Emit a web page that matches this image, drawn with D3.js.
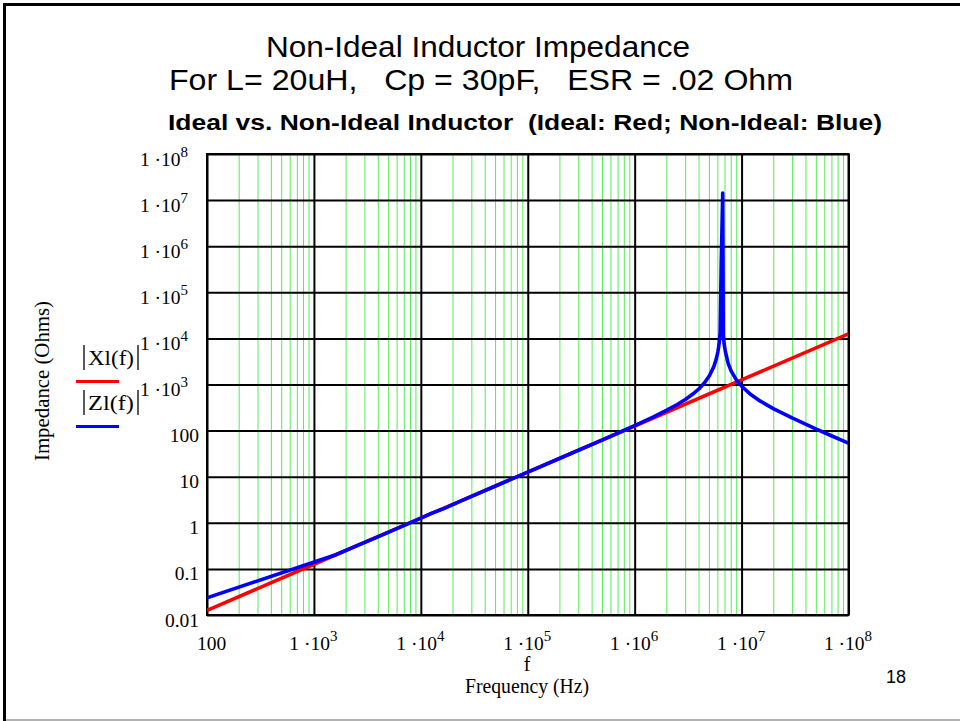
<!DOCTYPE html>
<html><head><meta charset="utf-8">
<script src="https://cdn.jsdelivr.net/npm/d3@7"></script>
<style>
body{margin:0;background:#fff;}
svg{display:block;}
text{white-space:pre;}
</style></head><body>
<svg id="chart" width="960" height="721"></svg>
<script>
// ---------- data ----------
const titleLines = ["Non-Ideal Inductor Impedance", "For L= 20uH,   Cp = 30pF,   ESR = .02 Ohm"];
const subTitle = "Ideal vs. Non-Ideal Inductor  (Ideal: Red; Non-Ideal: Blue)";
const xAxisSymbol = "f";
const xAxisTitle = "Frequency (Hz)";
const yAxisTitle = "Impedance (Ohms)";
const legendNames = ["Xl(f)", "Zl(f)"];
const pageNumber = "18";

const xTickValues = [1e2, 1e3, 1e4, 1e5, 1e6, 1e7, 1e8];
const xTickLabels = ["100", "1·10^3", "1·10^4", "1·10^5", "1·10^6", "1·10^7", "1·10^8"];
const yTickValues = [0.01, 0.1, 1, 10, 100, 1e3, 1e4, 1e5, 1e6, 1e7, 1e8];
const yTickLabels = ["0.01", "0.1", "1", "10", "100", "1·10^3", "1·10^4", "1·10^5", "1·10^6", "1·10^7", "1·10^8"];

// Ideal inductor |Xl(f)| (red)
const idealFreq = [1e2, 1e3, 1e4, 1e5, 1e6, 1e7, 1e8];
const idealXl   = [0.0126, 0.126, 1.26, 12.6, 126, 1257, 12570];

// Non-ideal inductor |Zl(f)| (blue)
const nonIdealFreq = [1e2, 1.58e3, 2.5e3, 4e3, 7e3, 1e4, 1.25e4, 1.6e4, 2.5e4, 5e4,
  1e5, 2e5, 5e5, 1e6, 1.5e6, 2e6, 2.5e6, 3e6, 3.5e6, 4e6, 4.5e6, 5e6, 5.5e6, 5.8e6, 6.0e6, 6.1e6,
  6.2e6, 6.3e6, 6.45e6, 6.66e6, 6.74e6, 6.85e6, 7.05e6, 7.5e6, 8e6, 9e6, 1e7, 1.2e7, 1.5e7, 2e7, 3e7,
  5e7, 7e7, 1e8];
const nonIdealZl = [0.0236, 0.2, 0.315, 0.503, 0.88, 1.257, 1.6, 1.99, 3.14, 6.28,
  12.57, 25.16, 63.2, 128.7, 199, 277.6, 368.8, 479, 620, 809, 1087, 1541, 2440, 3590, 5130, 6470,
  8730, 13260, 410000, 14300000, 12000, 8000, 5200, 2830, 1950, 1231, 918, 625, 435, 296.5, 185.5,
  107.9, 76.4, 53.3];

// ---------- layout ----------
const svg = d3.select("#chart");
const L = 207, R = 848.5, T = 154, B = 615;
const serif = "'Liberation Serif','Times New Roman',serif";
const sans = "'Liberation Sans',Arial,sans-serif";

const x = d3.scaleLog().domain([1e2, 1e8]).range([L, R]);
const y = d3.scaleLog().domain([0.01, 1e8]).range([B, T]);

// slide border
svg.append("line").attr("x1", 4.5).attr("x2", 960).attr("y1", 4.5).attr("y2", 4.5).attr("stroke", "#000").attr("stroke-width", 3);
svg.append("line").attr("x1", 4.5).attr("x2", 4.5).attr("y1", 3).attr("y2", 721).attr("stroke", "#000").attr("stroke-width", 3);
svg.append("line").attr("x1", 6).attr("x2", 960).attr("y1", 720).attr("y2", 720).attr("stroke", "#999").attr("stroke-width", 1.5);

// titles
svg.append("text").attr("x", 478).attr("y", 57).attr("text-anchor", "middle")
  .attr("font-family", sans).attr("font-size", 29).attr("textLength", 424).attr("lengthAdjust", "spacingAndGlyphs")
  .text(titleLines[0]);
svg.append("text").attr("x", 481).attr("y", 90).attr("text-anchor", "middle")
  .attr("font-family", sans).attr("font-size", 29).attr("textLength", 624).attr("lengthAdjust", "spacingAndGlyphs")
  .text(titleLines[1]);
svg.append("text").attr("x", 525).attr("y", 130).attr("text-anchor", "middle")
  .attr("font-family", sans).attr("font-size", 21.5).attr("font-weight", "bold").attr("textLength", 714).attr("lengthAdjust", "spacingAndGlyphs")
  .text(subTitle);

// minor vertical grid (green)
const minorX = x.ticks().filter(v => !xTickValues.some(t => Math.abs(t - v) / t < 1e-9));
svg.append("g").selectAll("line").data(minorX).join("line")
  .attr("x1", d => x(d)).attr("x2", d => x(d)).attr("y1", T).attr("y2", B)
  .attr("stroke", "#55ec55").attr("stroke-width", 1);

// major grid via axes
const gridY = svg.append("g").attr("transform", `translate(${L},0)`)
  .call(d3.axisLeft(y).tickValues(yTickValues).tickSize(-(R - L)).tickFormat(""));
gridY.select(".domain").remove();
gridY.selectAll("line").attr("stroke", "#000").attr("stroke-width", 2);

const gridX = svg.append("g").attr("transform", `translate(0,${B})`)
  .call(d3.axisBottom(x).tickValues(xTickValues).tickSize(-(B - T)).tickFormat(""));
gridX.select(".domain").remove();
gridX.selectAll("line").attr("stroke", "#000").attr("stroke-width", 2);

// frame
svg.append("rect").attr("x", L).attr("y", T).attr("width", R - L).attr("height", B - T)
  .attr("fill", "none").attr("stroke", "#000").attr("stroke-width", 2);

// label helper with superscript
function setLabel(sel, label) {
  const parts = label.split("^");
  sel.text(null);
  sel.append("tspan").text(parts[0].replace("·", " ·"));
  if (parts[1] !== undefined) sel.append("tspan").attr("font-size", 15).attr("dy", -9).text(parts[1]);
}

// y axis labels
const yAx = svg.append("g").attr("transform", `translate(${L},0)`)
  .call(d3.axisLeft(y).tickValues(yTickValues).tickSize(0).tickPadding(8).tickFormat((d, i) => yTickLabels[i]));
yAx.select(".domain").remove();
yAx.selectAll("text").each(function (d, i) {
  const s = d3.select(this);
  const lab = yTickLabels[i];
  s.attr("font-family", serif).attr("font-size", 19.5).attr("fill", "#000")
    .attr("dy", null).attr("y", 11).attr("x", lab.includes("^") ? -19 : -8);
  setLabel(s, lab);
});

// x axis labels
const xAx = svg.append("g").attr("transform", `translate(0,${B})`)
  .call(d3.axisBottom(x).tickValues(xTickValues).tickSize(0).tickFormat((d, i) => xTickLabels[i]));
xAx.select(".domain").remove();
xAx.selectAll("text").each(function (d, i) {
  const s = d3.select(this);
  const lab = xTickLabels[i];
  s.attr("font-family", serif).attr("font-size", 19.5).attr("fill", "#000")
    .attr("dy", null).attr("y", 35).attr("x", lab.includes("^") ? -1 : 4);
  setLabel(s, lab);
});

// axis titles
svg.append("text").attr("x", 527).attr("y", 671).attr("text-anchor", "middle")
  .attr("font-family", serif).attr("font-size", 20).text(xAxisSymbol);
svg.append("text").attr("x", 527).attr("y", 693).attr("text-anchor", "middle")
  .attr("font-family", serif).attr("font-size", 20).attr("textLength", 124).attr("lengthAdjust", "spacingAndGlyphs").text(xAxisTitle);
svg.append("text").attr("transform", "translate(49,381) rotate(-90)").attr("text-anchor", "middle")
  .attr("font-family", serif).attr("font-size", 20).attr("textLength", 160).attr("lengthAdjust", "spacingAndGlyphs").text(yAxisTitle);

// page number
svg.append("text").attr("x", 886).attr("y", 683).attr("font-family", sans).attr("font-size", 18).text(pageNumber);

// curves
svg.append("clipPath").attr("id", "clip").append("rect")
  .attr("x", L).attr("y", T).attr("width", R - L).attr("height", B - T);
const line = d3.line().x(d => x(d[0])).y(d => y(d[1]));
const plot = svg.append("g").attr("clip-path", "url(#clip)");
plot.append("path").datum(idealFreq.map((f, i) => [f, idealXl[i]]))
  .attr("d", line).attr("fill", "none").attr("stroke", "#ff0000").attr("stroke-width", 3.6);
plot.append("path").datum(nonIdealFreq.map((f, i) => [f, nonIdealZl[i]]))
  .attr("d", line).attr("fill", "none").attr("stroke", "#0000ff").attr("stroke-width", 3.6).attr("stroke-linejoin", "round");

// legend
const legendColors = ["#ff0000", "#0000ff"];
const legendTextY = [365, 410];
const legendLineY = [381.5, 426.5];
legendNames.forEach((nm, i) => {
  const ty = legendTextY[i];
  svg.append("line").attr("x1", 84).attr("x2", 84).attr("y1", ty - 20).attr("y2", ty + 5).attr("stroke", "#000").attr("stroke-width", 1.3);
  svg.append("line").attr("x1", 138).attr("x2", 138).attr("y1", ty - 20).attr("y2", ty + 5).attr("stroke", "#000").attr("stroke-width", 1.3);
  svg.append("text").attr("x", 111).attr("y", ty).attr("text-anchor", "middle")
    .attr("font-family", serif).attr("font-size", 20).attr("textLength", 46).attr("lengthAdjust", "spacingAndGlyphs").text(nm);
  svg.append("line").attr("x1", 76).attr("x2", 119).attr("y1", legendLineY[i]).attr("y2", legendLineY[i])
    .attr("stroke", legendColors[i]).attr("stroke-width", 3);
});
</script>
</body></html>
